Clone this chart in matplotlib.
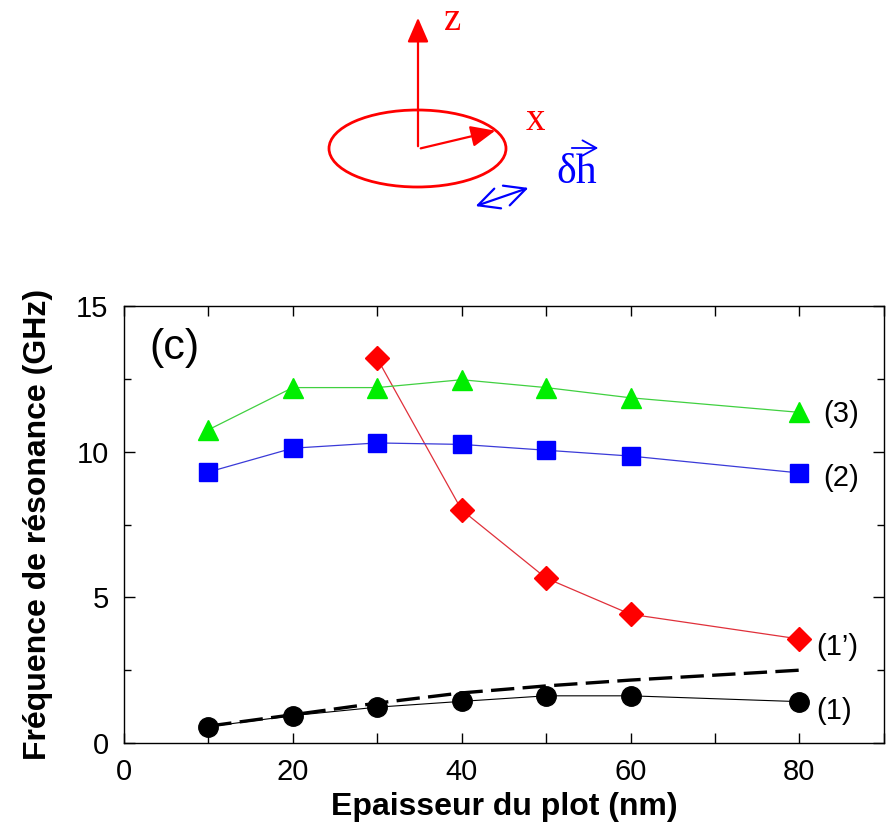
import numpy as np
import matplotlib.pyplot as plt
from matplotlib.patches import Ellipse, FancyArrowPatch

# thickness of the dot (nm)
x_main = [10, 20, 30, 40, 50, 60, 80]
x_red = [30, 40, 50, 60, 80]
x_dash = [10, 20, 30, 40, 50, 60, 70, 80]

# resonance frequencies (GHz)
f_mode3 = [10.75, 12.2, 12.2, 12.47, 12.2, 11.85, 11.35]
f_mode2 = [9.3, 10.12, 10.3, 10.25, 10.05, 9.85, 9.27]
f_mode1p = [13.2, 8.0, 5.66, 4.42, 3.57]
f_mode1 = [0.56, 0.94, 1.23, 1.43, 1.62, 1.62, 1.42]
f_dash = [0.58, 0.97, 1.37, 1.72, 1.96, 2.16, 2.33, 2.5]

labels = ['(3)', '(2)', "(1’)", '(1)']
label_x = [82.8, 82.8, 82.0, 82.0]
label_y = [11.3, 9.1, 3.3, 1.1]

plt.rcParams['font.family'] = ['Liberation Sans', 'DejaVu Sans']

fig = plt.figure(figsize=(8.91, 8.30), dpi=100)

# sketch at the top, drawn in pixel coordinates
sk = fig.add_axes([0, 0, 1, 1])
sk.set_xlim(0, 891)
sk.set_ylim(830, 0)
sk.axis('off')
sk.add_patch(Ellipse((417.5, 148.5), 177, 77, fill=False, ec='red', lw=2))
sk.add_patch(FancyArrowPatch((418, 149), (418, 15), arrowstyle='-|>,head_length=6,head_width=2.6',
                             mutation_scale=2.5, color='red', lw=1.6))
sk.add_patch(FancyArrowPatch((418, 149), (498, 130), arrowstyle='-|>,head_length=6,head_width=2.6',
                             mutation_scale=2.5, color='red', lw=1.6))
sk.add_patch(FancyArrowPatch((473, 207), (531, 187), arrowstyle='<->,head_length=6,head_width=3',
                             mutation_scale=2.5, color='blue', lw=1.6))
sk.text(444, 20, 'z', color='red', fontsize=28, family='Liberation Serif', va='center', ha='left')
sk.text(526, 121, 'x', color='red', fontsize=28, family='Liberation Serif', va='center', ha='left')
sk.text(556, 183, 'δh', color='blue', fontsize=30, family='Liberation Serif', va='baseline', ha='left')
sk.add_patch(FancyArrowPatch((569, 148), (601, 148), arrowstyle='->,head_length=4,head_width=2.2',
                             mutation_scale=2.5, color='blue', lw=1.3))

ax = fig.add_axes([0.139, 0.1048, 0.853, 0.5265])
ax.plot(x_dash, f_dash, color='black', lw=2.4, dashes=(7, 2.5), zorder=2)
ax.plot(x_main, f_mode1, color='black', lw=0.8, marker='o', ms=14, mfc='black', mec='black', zorder=3)
ax.plot(x_red, f_mode1p, color='#e0303a', lw=0.9, marker='D', ms=12.5, mfc='red', mec='red', zorder=3)
ax.plot(x_main, f_mode2, color='#3a3ad8', lw=0.9, marker='s', ms=12.5, mfc='blue', mec='blue', zorder=3)
ax.plot(x_main, f_mode3, color='#40d040', lw=0.9, marker='^', ms=14, mfc='#00ee00', mec='#00ee00', zorder=3)

for lab, xx, yy in zip(labels, label_x, label_y):
    ax.text(xx, yy, lab, fontsize=21, va='center', ha='left')
ax.text(3.0, 13.55, '(c)', fontsize=31, va='center', ha='left')

ax.set_xlim(0, 90)
ax.set_ylim(0, 15)
ax.set_xticks(np.arange(0, 91, 20))
ax.set_xticks(np.arange(10, 91, 20), minor=True)
ax.set_yticks([0, 5, 10, 15])
ax.set_yticks([2.5, 7.5, 12.5], minor=True)
ax.tick_params(which='both', direction='in', top=True, right=True, width=1, labelsize=21, pad=11)
ax.tick_params(axis='x', which='both', length=7)
ax.tick_params(axis='y', which='major', length=8)
ax.tick_params(axis='y', which='minor', length=5)
for s in ax.spines.values():
    s.set_linewidth(1)
ax.set_xlabel('Epaisseur du plot (nm)', fontsize=23, fontweight='bold', labelpad=4)
ax.set_ylabel('Fréquence de résonance (GHz)', fontsize=23, fontweight='bold', labelpad=17)

fig.savefig('out.png', dpi=100)
